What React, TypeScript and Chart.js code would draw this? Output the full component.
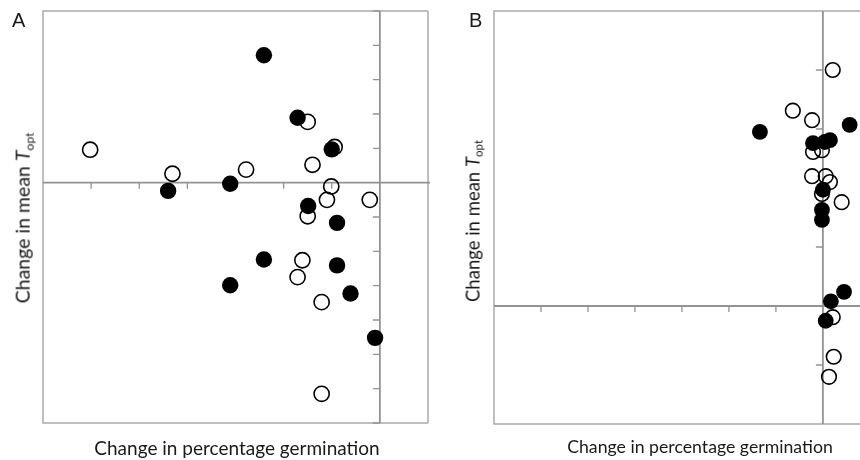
import React, { useEffect, useRef } from "react";
import { Chart, registerables } from "chart.js";

Chart.register(...registerables);

// Panel A data (arbitrary tick units; zero lines cross at 0,0)
const aFilledX = [-2.41, -1.71, -1.0, -4.4, -3.11, -1.49, -0.89, -2.41, -0.89, -3.11, -0.61, -0.1];
const aFilledY = [3.71, 1.89, 0.97, -0.24, -0.03, -0.68, -1.17, -2.24, -2.41, -2.99, -3.23, -4.52];
const aOpenX = [-6.02, -4.31, -2.78, -1.5, -0.94, -1.4, -1.01, -1.1, -0.21, -1.5, -1.61, -1.71, -1.21, -1.21];
const aOpenY = [0.96, 0.26, 0.38, 1.77, 1.04, 0.52, -0.11, -0.5, -0.5, -0.98, -2.26, -2.75, -3.48, -6.15];

// Panel B data
const bFilledX = [-1.34, 0.57, -0.21, 0.04, 0.15, 0.0, -0.02, -0.02, 0.45, 0.17, 0.06];
const bFilledY = [2.95, 3.07, 2.76, 2.78, 2.81, 1.97, 1.63, 1.46, 0.24, 0.08, -0.25];
const bOpenX = [0.21, -0.64, -0.23, -0.21, -0.02, -0.23, 0.06, 0.15, -0.02, 0.4, 0.21, 0.23, 0.13];
const bOpenY = [4.0, 3.31, 3.15, 2.61, 2.64, 2.2, 2.2, 2.1, 1.9, 1.76, -0.19, -0.86, -1.2];

// Tick positions on the zero-crossing axes
const aXTicks = [-6, -5, -4, -3, -2, -1];
const aYTicks = [-7, -6, -5, -4, -3, -2, -1, 1, 2, 3, 4, 5];
const bXTicks = [-6, -5, -4, -3, -2, -1];
const bYTicks = [-1, 1, 2, 3, 4];

const pts = (xs: number[], ys: number[]) => xs.map((x, i) => ({ x, y: ys[i] }));

type PanelCfg = {
  filledX: number[];
  filledY: number[];
  openX: number[];
  openY: number[];
  xMin: number;
  xMax: number;
  yMin: number;
  yMax: number;
  xTicks: number[];
  yTicks: number[];
  padding: { left: number; right: number; top: number; bottom: number };
  rightBorder: boolean;
  radius: number;
};

const axesPlugin = {
  id: "crossAxes",
  beforeDatasetsDraw(chart: any, _args: any, opts: any) {
    const { ctx, chartArea } = chart;
    const xs = chart.scales.x;
    const ys = chart.scales.y;
    const { left, right, top, bottom } = chartArea;
    ctx.save();
    // frame
    ctx.strokeStyle = "#ababab";
    ctx.lineWidth = 1.5;
    ctx.beginPath();
    ctx.moveTo(right + (opts.rightBorder ? 0 : 2), top);
    ctx.lineTo(left, top);
    ctx.lineTo(left, bottom);
    ctx.lineTo(right + (opts.rightBorder ? 0 : 2), bottom);
    if (opts.rightBorder) {
      ctx.moveTo(right, top);
      ctx.lineTo(right, bottom);
    }
    ctx.stroke();
    // zero axes
    const x0 = xs.getPixelForValue(0);
    const y0 = ys.getPixelForValue(0);
    ctx.strokeStyle = "#939393";
    ctx.lineWidth = 1.8;
    ctx.beginPath();
    ctx.moveTo(left, y0);
    ctx.lineTo(right + 2, y0);
    ctx.moveTo(x0, top);
    ctx.lineTo(x0, bottom);
    ctx.stroke();
    // ticks
    ctx.lineWidth = 1.3;
    ctx.beginPath();
    (opts.xTicks as number[]).forEach((v) => {
      const px = xs.getPixelForValue(v);
      ctx.moveTo(px, y0);
      ctx.lineTo(px, y0 + 6);
    });
    (opts.yTicks as number[]).forEach((v) => {
      const py = ys.getPixelForValue(v);
      ctx.moveTo(x0, py);
      ctx.lineTo(x0 - 7, py);
    });
    ctx.stroke();
    ctx.restore();
  },
};

function Panel({ cfg, style }: { cfg: PanelCfg; style: React.CSSProperties }) {
  const ref = useRef<HTMLCanvasElement | null>(null);
  useEffect(() => {
    if (!ref.current) return;
    const chart = new Chart(ref.current, {
      type: "scatter",
      data: {
        datasets: [
          {
            label: "filled",
            data: pts(cfg.filledX, cfg.filledY),
            backgroundColor: "#000000",
            borderColor: "#000000",
            borderWidth: 0,
            pointRadius: cfg.radius,
            clip: false as any,
          },
          {
            label: "open",
            data: pts(cfg.openX, cfg.openY),
            backgroundColor: "rgba(255,255,255,0)",
            borderColor: "#000000",
            borderWidth: 1.6,
            pointRadius: cfg.radius - 0.6,
            clip: false as any,
          },
        ],
      },
      options: {
        animation: false,
        responsive: false,
        events: [],
        layout: { padding: cfg.padding, autoPadding: false } as any,
        plugins: {
          legend: { display: false },
          tooltip: { enabled: false },
          crossAxes: { xTicks: cfg.xTicks, yTicks: cfg.yTicks, rightBorder: cfg.rightBorder },
        } as any,
        scales: {
          x: { type: "linear", min: cfg.xMin, max: cfg.xMax, display: false },
          y: { type: "linear", min: cfg.yMin, max: cfg.yMax, display: false },
        },
      },
      plugins: [axesPlugin],
    });
    return () => chart.destroy();
  }, []);
  return <canvas ref={ref} width={430} height={460} style={{ position: "absolute", ...style }} />;
}

const panelA: PanelCfg = {
  filledX: aFilledX,
  filledY: aFilledY,
  openX: aOpenX,
  openY: aOpenY,
  xMin: -7,
  xMax: 1,
  yMin: -7,
  yMax: 5,
  xTicks: aXTicks,
  yTicks: aYTicks,
  padding: { left: 43, right: 2, top: 11, bottom: 37 },
  rightBorder: true,
  radius: 8.2,
};

const panelB: PanelCfg = {
  filledX: bFilledX,
  filledY: bFilledY,
  openX: bOpenX,
  openY: bOpenY,
  xMin: -7,
  xMax: 0.79,
  yMin: -2,
  yMax: 5,
  xTicks: bXTicks,
  yTicks: bYTicks,
  padding: { left: 64, right: 0, top: 11, bottom: 36 },
  rightBorder: false,
  radius: 7.9,
};

const textBase: React.CSSProperties = {
  position: "absolute",
  whiteSpace: "nowrap",
  fontFamily: "Lato, 'Open Sans', sans-serif",
  color: "#1a1a1a",
  lineHeight: 1,
};

function YTitle({ x, y, size }: { x: number; y: number; size: number }) {
  return (
    <div
      style={{
        ...textBase,
        left: x,
        top: y,
        fontSize: size,
        transform: "translate(-50%, -50%) rotate(-90deg)",
      }}
    >
      Change in mean <i>T</i>
      <sub style={{ fontSize: size * 0.62, verticalAlign: "-0.3em" }}>opt</sub>
    </div>
  );
}

function XTitle({ x, y, size }: { x: number; y: number; size: number }) {
  return (
    <div style={{ ...textBase, left: x, top: y, fontSize: size, transform: "translate(-50%, -50%)" }}>
      Change in percentage germination
    </div>
  );
}

export default function App() {
  return (
    <div
      style={{
        position: "fixed",
        left: 0,
        top: 0,
        width: 860,
        height: 460,
        background: "#fff",
        overflow: "hidden",
      }}
    >
      <Panel cfg={panelA} style={{ left: 0, top: 0 }} />
      <Panel cfg={panelB} style={{ left: 430, top: 0 }} />
      <div style={{ ...textBase, left: 12, top: 10, fontSize: 20, fontFamily: "'Liberation Sans', Arial, sans-serif" }}>A</div>
      <div style={{ ...textBase, left: 469, top: 10, fontSize: 20, fontFamily: "'Liberation Sans', Arial, sans-serif" }}>B</div>
      <YTitle x={24} y={218} size={19.5} />
      <YTitle x={474} y={221} size={18.5} />
      <XTitle x={237} y={447} size={19} />
      <XTitle x={700} y={447} size={17.7} />
    </div>
  );
}
